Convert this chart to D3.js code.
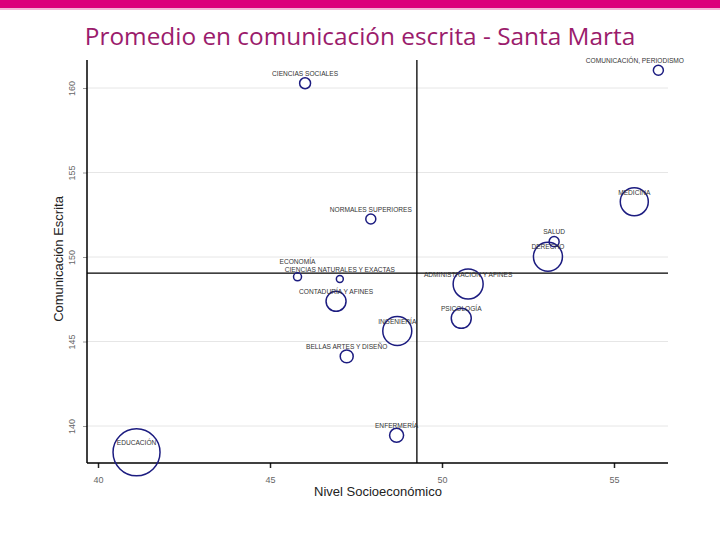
<!DOCTYPE html>
<html><head><meta charset="utf-8">
<script src="https://cdn.jsdelivr.net/npm/d3@7"></script>
<style>body{margin:0;background:#fff}svg{display:block}</style>
</head><body>
<svg id="c" width="720" height="540"></svg>
<script>
const programs = ["CIENCIAS SOCIALES","NORMALES SUPERIORES","COMUNICACIÓN, PERIODISMO","MEDICINA","SALUD","DERECHO","ADMINISTRACIÓN Y AFINES","PSICOLOGÍA","ECONOMÍA","CIENCIAS NATURALES Y EXACTAS","CONTADURÍA Y AFINES","INGENIERÍA","BELLAS ARTES Y DISEÑO","ENFERMERÍA","EDUCACIÓN"];
const nivel = [46.02,47.93,56.29,55.59,53.26,53.08,50.76,50.56,45.80,47.03,46.92,48.70,47.23,48.68,41.12];
const escrita = [160.28,152.25,161.05,153.27,150.91,150.02,148.40,146.37,148.83,148.70,147.38,145.62,144.12,139.45,138.44];
const weight = [30,25,25,196,25,210,225,100,16,12,100,210,42,49,552];
const xTicks = [40,45,50,55];
const yTicks = [140,145,150,155,160];
const meanX = 49.27;
const meanY = 149.05;

const svg = d3.select("#c");
const L=87,R=668,T=60,B=463;
const x = d3.scaleLinear().domain([39.68,56.57]).range([L,R]);
const y = d3.scaleLinear().domain([137.811,161.657]).range([B,T]);
const r = d3.scaleSqrt().domain([0,552]).range([0,23.5]);

// top bar
svg.append("rect").attr("x",0).attr("y",0).attr("width",720).attr("height",8).attr("fill","#dc007b");
svg.append("rect").attr("x",0).attr("y",8).attr("width",720).attr("height",2).attr("fill","#f3b7d6");

// title
const title = svg.append("text").attr("x",360).attr("y",45).attr("text-anchor","middle")
  .attr("font-family","Open Sans, sans-serif").attr("font-size",22).attr("fill","#9b1c6c")
  .text("Promedio en comunicación escrita - Santa Marta");
const tw = title.node().getComputedTextLength();
title.attr("font-size",22*551/tw);

// gridlines
svg.append("g").selectAll("line").data(yTicks).join("line")
  .attr("x1",L).attr("x2",R).attr("y1",d=>y(d)).attr("y2",d=>y(d))
  .attr("stroke","#e6e6e6").attr("stroke-width",1);

// y axis
const yAxis = svg.append("g").attr("transform",`translate(${L},0)`)
  .call(d3.axisLeft(y).tickValues(yTicks).tickSize(4).tickPadding(0).tickFormat(d3.format("d")));
yAxis.select(".domain").remove();
yAxis.selectAll(".tick line").attr("stroke","#999");
yAxis.selectAll(".tick text").attr("transform","translate(-15,0) rotate(-90)").attr("text-anchor","middle")
  .attr("dy","0.35em").attr("x",0).attr("font-family","Liberation Sans, Arial, sans-serif").attr("font-size",9).attr("fill","#666");

// x axis
const xAxis = svg.append("g").attr("transform",`translate(0,${B})`)
  .call(d3.axisBottom(x).tickValues(xTicks).tickSize(5).tickPadding(9).tickFormat(d3.format("d")));
xAxis.select(".domain").remove();
xAxis.selectAll(".tick line").attr("stroke","#222").attr("stroke-width",1.5);
xAxis.selectAll(".tick text").attr("font-family","Liberation Sans, Arial, sans-serif").attr("font-size",9).attr("fill","#666");

// axis lines
svg.append("line").attr("x1",L).attr("x2",L).attr("y1",T).attr("y2",B).attr("stroke","#000").attr("stroke-width",1.5);
svg.append("line").attr("x1",L).attr("x2",R).attr("y1",B).attr("y2",B).attr("stroke","#000").attr("stroke-width",1.5);

// reference lines
svg.append("line").attr("x1",x(meanX)).attr("x2",x(meanX)).attr("y1",T).attr("y2",B).attr("stroke","#000").attr("stroke-width",1.3);
svg.append("line").attr("x1",L).attr("x2",R).attr("y1",y(meanY)).attr("y2",y(meanY)).attr("stroke","#000").attr("stroke-width",1.3);

// axis titles
svg.append("text").attr("transform",`translate(63,259) rotate(-90)`).attr("text-anchor","middle")
  .attr("font-family","Liberation Sans, Arial, sans-serif").attr("font-size",13).attr("fill","#222").text("Comunicación Escrita");
svg.append("text").attr("x",378).attr("y",496).attr("text-anchor","middle")
  .attr("font-family","Liberation Sans, Arial, sans-serif").attr("font-size",13).attr("fill","#222").text("Nivel Socioeconómico");

const data = programs.map((p,i)=>({p, x:nivel[i], y:escrita[i], w:weight[i]}));

svg.append("g").selectAll("circle").data(data).join("circle")
  .attr("cx",d=>x(d.x)).attr("cy",d=>y(d.y)).attr("r",d=>r(d.w))
  .attr("fill","none").attr("stroke","#1c1c80").attr("stroke-width",1.5);

const labels = svg.append("g").selectAll("text").data(data).join("text")
  .attr("x",d=>x(d.x)).attr("y",d=>y(d.y)-9.5).attr("dy","0.35em").attr("text-anchor","middle")
  .attr("font-family","Liberation Sans, Arial, sans-serif").attr("font-size",6.6).attr("fill","#333")
  .text(d=>d.p);
labels.each(function(){
  const bb=this.getBBox();
  const maxR=684;
  if(bb.x+bb.width>maxR){ d3.select(this).attr("x",+this.getAttribute("x")-(bb.x+bb.width-maxR)); }
});
// resolve label collisions by lifting the upper label
const nodes = labels.nodes();
for(let i=0;i<nodes.length;i++){
  for(let j=0;j<nodes.length;j++){
    if(i===j) continue;
    const a=nodes[i].getBBox(), b=nodes[j].getBBox();
    const ov = a.x<b.x+b.width && b.x<a.x+a.width && a.y<b.y+b.height && b.y<a.y+a.height;
    if(ov && a.y<=b.y){
      const shift = a.y+a.height-b.y+0.5;
      nodes[i].setAttribute("y", +nodes[i].getAttribute("y")-shift);
    }
  }
}
</script>
</body></html>
